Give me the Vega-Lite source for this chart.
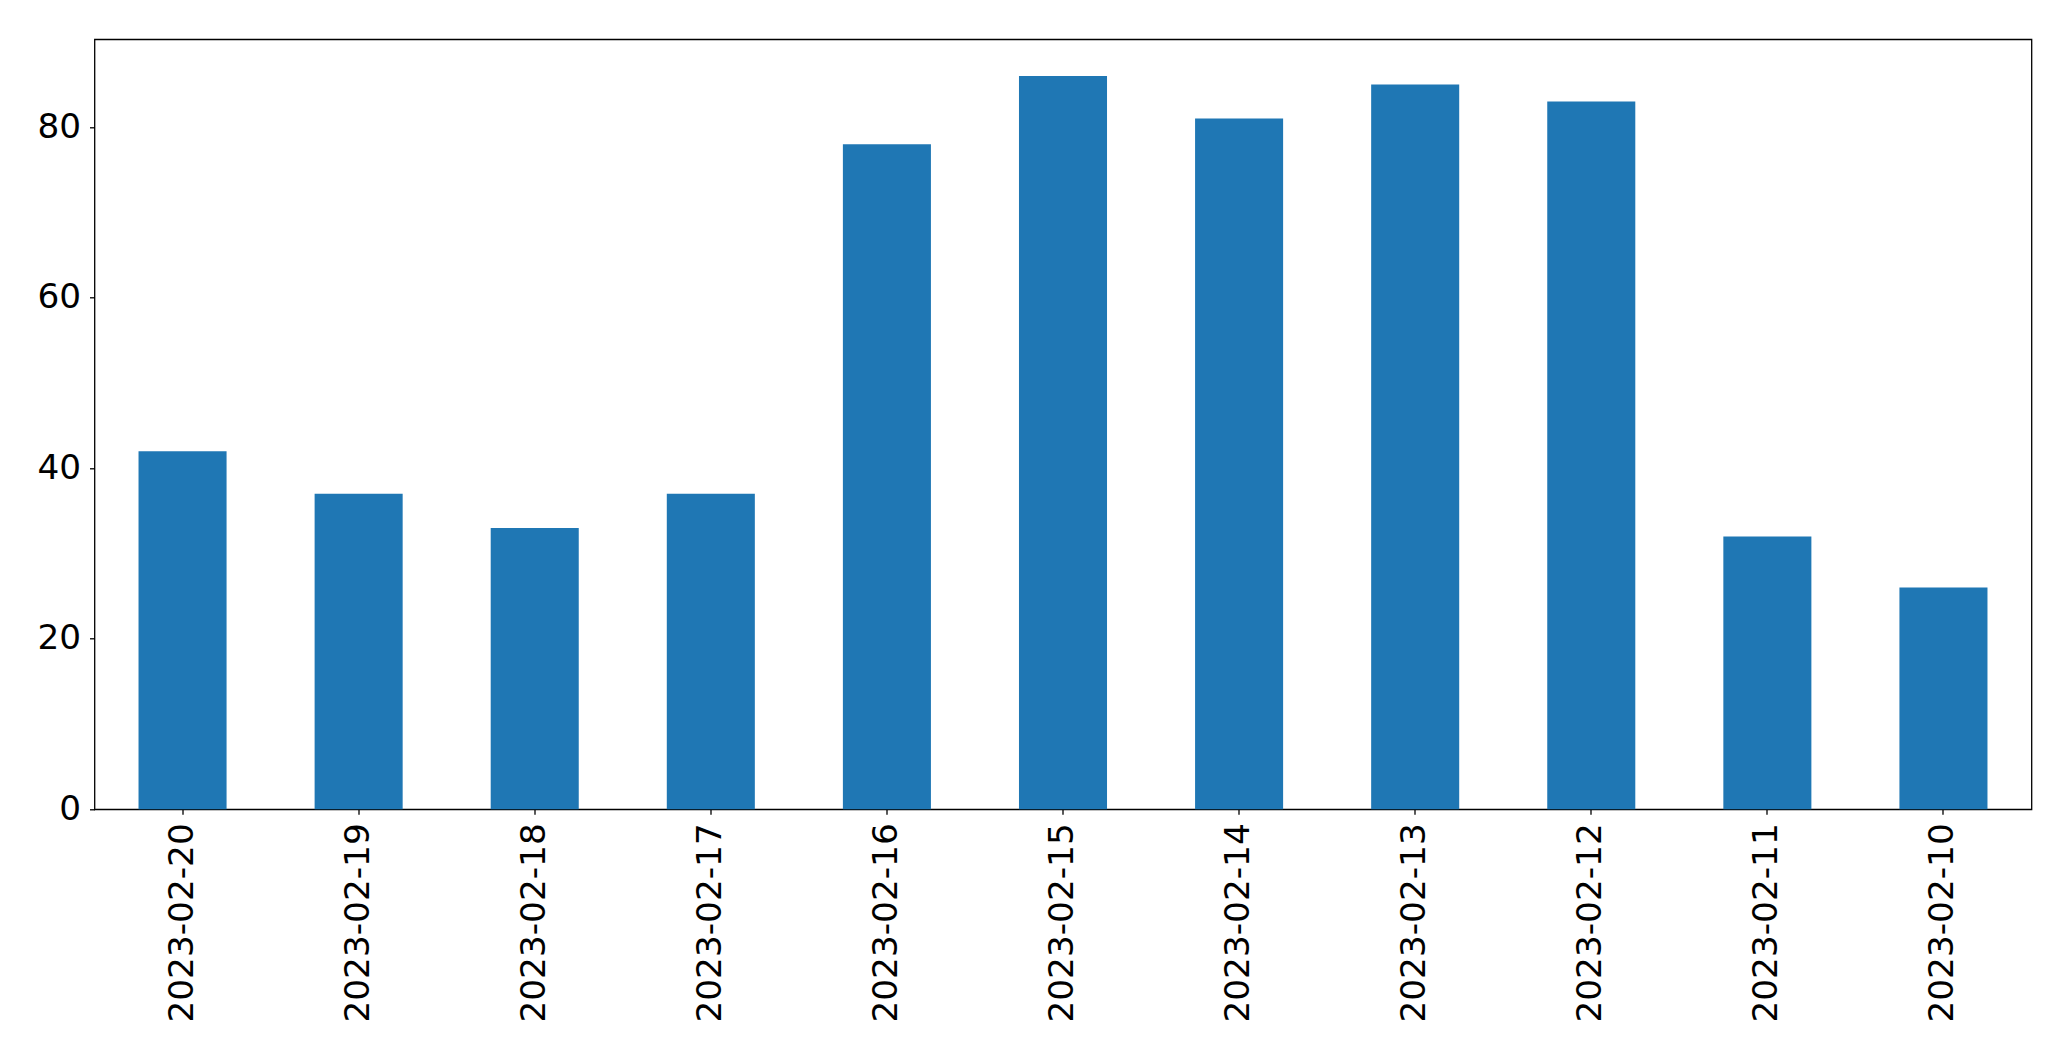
{
  "$schema": "https://vega.github.io/schema/vega-lite/v6.json",
  "width": 1937,
  "height": 770,
  "autosize": "none",
  "padding": {"left": 94.5, "top": 39.3, "right": 39.5, "bottom": 252},
  "background": "white",
  "config": {
    "view": {"stroke": "black", "strokeWidth": 1.3},
    "axis": {"grid": false, "domain": false, "labelFont": "DejaVu Sans", "labelFontSize": 34.3, "labelColor": "black", "labelLimit": 0, "tickColor": "black", "tickSize": 5, "tickWidth": 1.3, "title": null}
  },
  "data": {"values": [
    {"date": "2023-02-20", "value": 42},
    {"date": "2023-02-19", "value": 37},
    {"date": "2023-02-18", "value": 33},
    {"date": "2023-02-17", "value": 37},
    {"date": "2023-02-16", "value": 78},
    {"date": "2023-02-15", "value": 86},
    {"date": "2023-02-14", "value": 81},
    {"date": "2023-02-13", "value": 85},
    {"date": "2023-02-12", "value": 83},
    {"date": "2023-02-11", "value": 32},
    {"date": "2023-02-10", "value": 26}
  ]},
  "mark": {"type": "bar", "color": "#1f77b4"},
  "encoding": {
    "x": {"field": "date", "type": "nominal", "sort": null,
      "scale": {"paddingInner": 0.5, "paddingOuter": 0.25},
      "axis": {"labelAngle": -90, "labelAlign": "right", "labelBaseline": "middle", "labelPadding": 8.5}},
    "y": {"field": "value", "type": "quantitative",
      "scale": {"domain": [0, 90.3], "nice": false, "zero": true},
      "axis": {"values": [0, 20, 40, 60, 80], "labelPadding": 9}}
  }
}
